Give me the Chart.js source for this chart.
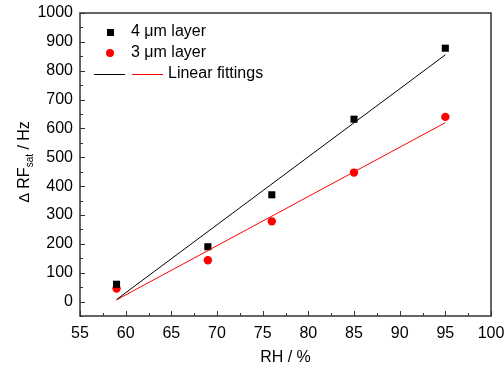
<!DOCTYPE html>
<html>
<head>
<meta charset="utf-8">
<script src="https://cdn.jsdelivr.net/npm/chart.js@4.4.1/dist/chart.umd.min.js"></script>
<style>
  html, body { margin: 0; padding: 0; background: #fff; }
  #wrap { width: 504px; height: 371px; }
</style>
</head>
<body>
<div id="wrap"><canvas id="chart" width="504" height="371"></canvas></div>
<script>
// data
const rh = [59, 69, 76, 85, 95];
const layer4 = [60, 190, 370, 632, 878];
const layer3 = [45, 143, 278, 447, 640];
const fitX = [59, 95];
const fit4 = [7, 855];
const fit3 = [6, 620];
const xTicks = [55, 60, 65, 70, 75, 80, 85, 90, 95, 100];
const yTicks = [0, 100, 200, 300, 400, 500, 600, 700, 800, 900, 1000];

const FONT = '"Liberation Sans", Arial, sans-serif';
const pts = (xs, ys) => xs.map((x, i) => ({ x, y: ys[i] }));

// inward ticks, frame, axis titles and legend
const decor = {
  id: 'decor',
  afterDraw(chart) {
    const { ctx, chartArea: a, scales: { x, y } } = chart;
    ctx.save();
    ctx.strokeStyle = '#333';
    ctx.lineWidth = 1;
    // y ticks (major + minor)
    for (let v = -50; v <= 1000; v += 50) {
      const py = Math.round(y.getPixelForValue(v)) + 0.5;
      const len = v % 100 === 0 ? 5 : 3;
      ctx.beginPath();
      ctx.moveTo(a.left, py); ctx.lineTo(a.left + len, py);
      ctx.stroke();
    }
    // x ticks
    for (let v = 55; v <= 100; v += 2.5) {
      const px = Math.round(x.getPixelForValue(v)) + 0.5;
      const len = v % 5 === 0 ? 5 : 3;
      ctx.beginPath();
      ctx.moveTo(px, a.bottom); ctx.lineTo(px, a.bottom - len);
      ctx.stroke();
    }
    // frame
    ctx.lineWidth = 1.5;
    ctx.strokeRect(a.left, a.top, a.right - a.left, a.bottom - a.top);

    // x title
    ctx.fillStyle = '#000';
    ctx.font = '16px ' + FONT;
    ctx.textAlign = 'center';
    ctx.textBaseline = 'middle';
    ctx.fillText('RH / %', (a.left + a.right) / 2, 358);

    // y title with subscript
    ctx.translate(25, 162);
    ctx.rotate(-Math.PI / 2);
    const parts = [
      { t: '\u0394 ', f: '15px ' + FONT, dy: 0 },
      { t: 'RF', f: '16px ' + FONT, dy: 0 },
      { t: 'sat', f: '10px ' + FONT, dy: 5 },
      { t: ' / Hz', f: '16px ' + FONT, dy: 0 }
    ];
    let total = 0;
    parts.forEach(p => { ctx.font = p.f; total += ctx.measureText(p.t).width; });
    let cx = -total / 2;
    ctx.textAlign = 'left';
    parts.forEach(p => {
      ctx.font = p.f;
      ctx.fillText(p.t, cx, p.dy);
      cx += ctx.measureText(p.t).width;
    });
    ctx.setTransform(1, 0, 0, 1, 0, 0);

    // legend
    ctx.font = '16px ' + FONT;
    ctx.textAlign = 'left';
    ctx.textBaseline = 'middle';
    ctx.fillStyle = '#000';
    ctx.fillRect(107, 29, 7, 7);
    ctx.fillText('4 \u03bcm layer', 131, 32);
    ctx.fillStyle = '#ff0000';
    ctx.beginPath(); ctx.arc(110, 53, 4, 0, Math.PI * 2); ctx.fill();
    ctx.fillStyle = '#000';
    ctx.fillText('3 \u03bcm layer', 131, 53);
    ctx.lineWidth = 1;
    ctx.strokeStyle = '#000';
    ctx.beginPath(); ctx.moveTo(94, 74.5); ctx.lineTo(125, 74.5); ctx.stroke();
    ctx.strokeStyle = '#ff0000';
    ctx.beginPath(); ctx.moveTo(132, 74.5); ctx.lineTo(163, 74.5); ctx.stroke();
    ctx.fillText('Linear fittings', 168, 74);
    ctx.restore();
  }
};

new Chart(document.getElementById('chart'), {
  type: 'scatter',
  data: {
    datasets: [
      { label: 'Fit 4', type: 'line', data: pts(fitX, fit4), borderColor: '#000', borderWidth: 1, pointRadius: 0, fill: false },
      { label: 'Fit 3', type: 'line', data: pts(fitX, fit3), borderColor: '#ff0000', borderWidth: 1, pointRadius: 0, fill: false },
      { label: '4 μm layer', data: pts(rh, layer4), pointStyle: 'rect', pointRadius: 5, backgroundColor: '#000', borderColor: '#000', borderWidth: 0 },
      { label: '3 μm layer', data: pts(rh, layer3), pointStyle: 'circle', pointRadius: 4.2, backgroundColor: '#ff0000', borderColor: '#ff0000', borderWidth: 0 }
    ]
  },
  options: {
    responsive: false,
    animation: false,
    layout: { padding: { top: 13, right: 13, left: 0, bottom: 0 } },
    plugins: { legend: { display: false }, tooltip: { enabled: false } },
    scales: {
      x: {
        type: 'linear', min: 55, max: 100,
        grid: { display: false, drawTicks: false },
        border: { display: false },
        afterBuildTicks: s => { s.ticks = xTicks.map(v => ({ value: v })); },
        afterFit: s => { s.height = 55; s.paddingLeft = 0; s.paddingRight = 0; },
        ticks: { color: '#000', padding: 8, font: { family: FONT, size: 16 }, callback: v => String(v) }
      },
      y: {
        type: 'linear', min: -50, max: 1000,
        grid: { display: false, drawTicks: false },
        border: { display: false },
        afterBuildTicks: s => { s.ticks = yTicks.map(v => ({ value: v })); },
        afterFit: s => { s.width = 80; s.paddingTop = 0; s.paddingBottom = 0; },
        ticks: { color: '#000', padding: 7, font: { family: FONT, size: 16 }, callback: v => String(v) }
      }
    }
  },
  plugins: [decor]
});
</script>
</body>
</html>
